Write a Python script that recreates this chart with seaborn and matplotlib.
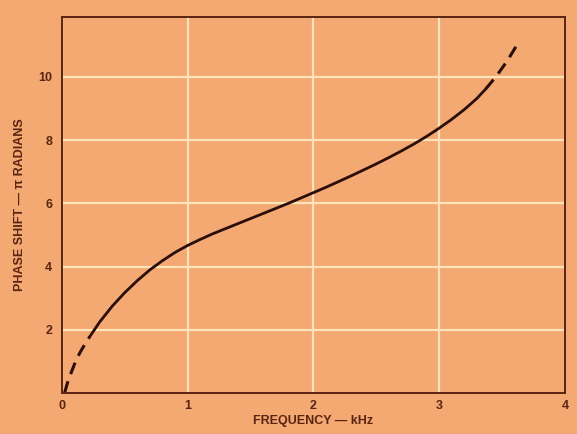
import matplotlib
matplotlib.use("Agg")
import matplotlib.pyplot as plt
import seaborn as sns
import pandas as pd

# curve, split where the line turns dashed
start_freq = [0.02, 0.05, 0.10, 0.14, 0.18, 0.22]
start_phase = [0.0, 0.41, 0.92, 1.26, 1.53, 1.78]

mid_freq = [0.22, 0.30, 0.40, 0.50, 0.60, 0.70, 0.80, 0.90,
            1.00, 1.10, 1.20, 1.30, 1.40, 1.50, 1.60, 1.70, 1.80, 1.90,
            2.00, 2.10, 2.20, 2.31, 2.40, 2.50, 2.60, 2.70, 2.80, 2.90,
            3.00, 3.10, 3.20, 3.30, 3.37]
mid_phase = [1.78, 2.25, 2.75, 3.18, 3.56, 3.90, 4.19, 4.45,
             4.67, 4.86, 5.04, 5.20, 5.36, 5.52, 5.68, 5.84, 6.00, 6.17,
             6.34, 6.51, 6.69, 6.89, 7.06, 7.25, 7.45, 7.66, 7.88, 8.12,
             8.38, 8.66, 8.97, 9.32, 9.62]

end_freq = [3.37, 3.45, 3.54, 3.62]
end_phase = [9.62, 10.00, 10.50, 11.02]

x_ticks = [0, 1, 2, 3, 4]
y_ticks = [2, 4, 6, 8, 10]

bg = "#F4A872"
grid_col = "#FBE4B8"
ink = "#5A2412"
line_col = "#2A0E0A"

sns.set_theme(style="darkgrid")
plt.rcParams['font.family'] = ['Liberation Sans', 'DejaVu Sans']

fig = plt.figure(figsize=(5.77, 4.34), dpi=100, facecolor=bg)
ax = fig.add_axes([0.1075, 0.0945, 0.8715, 0.8665])
ax.set_facecolor(bg)

start = pd.DataFrame({'f': start_freq, 'p': start_phase})
mid = pd.DataFrame({'f': mid_freq, 'p': mid_phase})
end = pd.DataFrame({'f': end_freq, 'p': end_phase})

sns.lineplot(data=mid, x='f', y='p', ax=ax, color=line_col, linewidth=2.0, sort=False)
for seg in (start, end):
    sns.lineplot(data=seg, x='f', y='p', ax=ax, color=line_col, linewidth=2.2,
                 sort=False, linestyle=(0, (4, 2.5)))

ax.set_xlim(0, 4)
ax.set_ylim(0, 11.9)
ax.set_xticks(x_ticks)
ax.set_yticks(y_ticks)
ax.set_xticklabels([str(t) for t in x_ticks])
ax.set_yticklabels([str(t) for t in y_ticks])
ax.grid(True, color=grid_col, linewidth=1.6)
ax.tick_params(axis='y', length=0, labelsize=9, labelcolor=ink, pad=7)
ax.tick_params(axis='x', length=0, labelsize=9, labelcolor=ink, pad=5)
for lbl in ax.get_xticklabels() + ax.get_yticklabels():
    lbl.set_fontweight('bold')

for s in ax.spines.values():
    s.set_visible(True)
    s.set_color(ink)
    s.set_linewidth(1.4)

ax.set_xlabel("FREQUENCY — kHz", fontsize=9, color=ink, fontweight='bold', labelpad=2)
ax.set_ylabel("PHASE SHIFT — π RADIANS", fontsize=9, color=ink, fontweight='bold', labelpad=9)

fig.savefig("out.png", dpi=100, facecolor=bg)
